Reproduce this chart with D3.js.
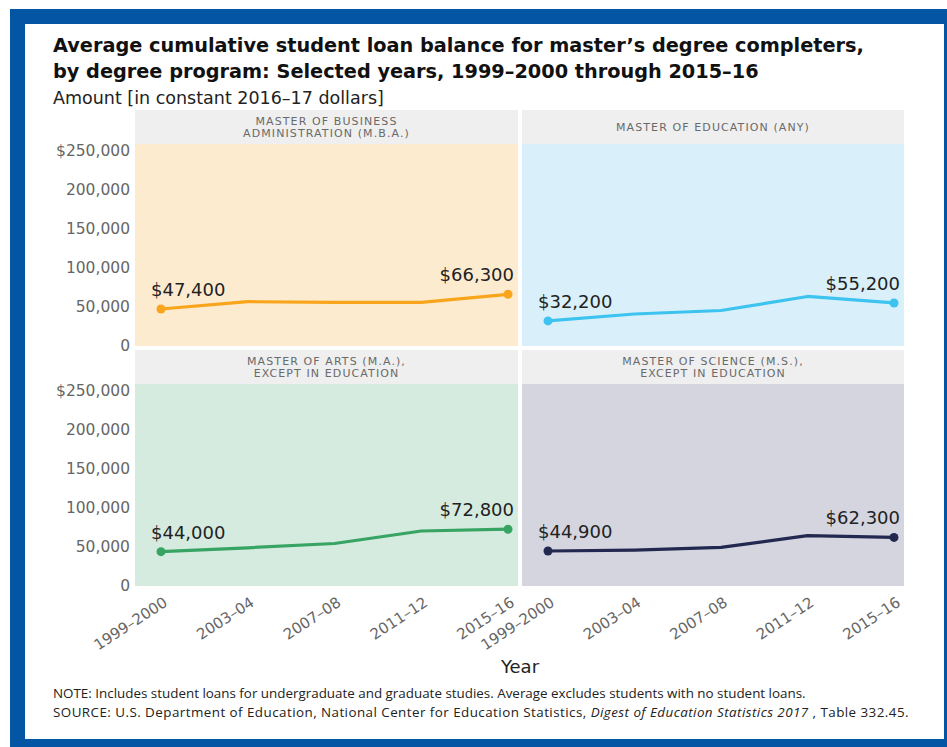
<!DOCTYPE html>
<html>
<head>
<meta charset="utf-8">
<script src="https://cdn.jsdelivr.net/npm/d3@7/dist/d3.min.js"></script>
<style>
  body { margin: 0; background: #fff; }
  svg text { font-family: "DejaVu Sans", sans-serif; }
</style>
</head>
<body>
<svg id="chart" width="947" height="747"></svg>
<script>
// data
var years = ["1999–2000", "2003–04", "2007–08", "2011–12", "2015–16"];
var mbaValues = [47400, 56800, 56000, 56000, 66300];
var eduValues = [32200, 41000, 45500, 63500, 55200];
var maValues = [44000, 49000, 54500, 70500, 72800];
var msValues = [44900, 46000, 49500, 64500, 62300];
var yTicks = [0, 50000, 100000, 150000, 200000, 250000];

var panels = [
  { title: ["MASTER OF BUSINESS", "ADMINISTRATION (M.B.A.)"], values: mbaValues, line: "#f8a51c", bg: "#fdebd0", col: 0, row: 0 },
  { title: ["MASTER OF EDUCATION (ANY)"], values: eduValues, line: "#3dc3f0", bg: "#d9f0fa", col: 1, row: 0 },
  { title: ["MASTER OF ARTS (M.A.),", "EXCEPT IN EDUCATION"], values: maValues, line: "#37a463", bg: "#d6ebdf", col: 0, row: 1 },
  { title: ["MASTER OF SCIENCE (M.S.),", "EXCEPT IN EDUCATION"], values: msValues, line: "#22284f", bg: "#d4d5df", col: 1, row: 1 }
];

var svg = d3.select("#chart");

// blue frame
svg.append("rect").attr("x", 10).attr("y", 9).attr("width", 937).attr("height", 738).attr("fill", "#0455a4");
svg.append("rect").attr("x", 25).attr("y", 24).attr("width", 919).attr("height", 715).attr("fill", "#fff");

// title
svg.append("text").attr("x", 53).attr("y", 52)
  .attr("font-size", 19.3).attr("font-weight", "bold").attr("fill", "#111")
  .text("Average cumulative student loan balance for master’s degree completers,");
svg.append("text").attr("x", 53).attr("y", 78)
  .attr("font-size", 19.3).attr("font-weight", "bold").attr("fill", "#111")
  .text("by degree program: Selected years, 1999–2000 through 2015–16");
svg.append("text").attr("x", 53).attr("y", 104)
  .attr("font-size", 17.5).attr("fill", "#222")
  .text("Amount [in constant 2016–17 dollars]");

var colX = [135, 522], colW = [383, 382];
var rowY = [110, 350];
var headH = 34, plotH = 202;

var y = d3.scaleLinear().domain([0, 250000]).range([plotH, 7]);
var fmtTick = d3.format(",");

panels.forEach(function (p) {
  var g = svg.append("g")
    .attr("transform", "translate(" + colX[p.col] + "," + rowY[p.row] + ")");
  var w = colW[p.col];

  var x = d3.scalePoint().domain(years).range([26, w - 10]);

  // header strip
  g.append("rect").attr("width", w).attr("height", headH).attr("fill", "#efefef");
  var lineH = 12.5;
  var startY = headH / 2 - (p.title.length - 1) * lineH / 2 + 4;
  p.title.forEach(function (t, i) {
    g.append("text")
      .attr("x", w / 2).attr("y", startY + i * lineH)
      .attr("text-anchor", "middle")
      .attr("font-size", 11).attr("fill", "#6a6a6a")
      .attr("letter-spacing", 1.1)
      .text(t);
  });

  var plot = g.append("g").attr("transform", "translate(0," + headH + ")");
  plot.append("rect").attr("width", w).attr("height", plotH).attr("fill", p.bg);

  // y axis on left column
  if (p.col === 0) {
    var yAxis = d3.axisLeft(y).tickValues(yTicks).tickSize(0).tickPadding(5)
      .tickFormat(function (d) { return d === 250000 ? "$" + fmtTick(d) : fmtTick(d); });
    var ya = plot.append("g").call(yAxis);
    ya.select(".domain").remove();
    ya.selectAll("text").attr("font-size", 15.5).attr("fill", "#666")
      .style("font-family", "DejaVu Sans");
  }

  // x axis on bottom row
  if (p.row === 1) {
    var xAxis = d3.axisBottom(x).tickSize(0).tickPadding(0);
    var xa = plot.append("g").attr("transform", "translate(0," + plotH + ")").call(xAxis);
    xa.select(".domain").remove();
    xa.selectAll("text")
      .attr("font-size", 15).attr("fill", "#666")
      .style("font-family", "DejaVu Sans")
      .attr("text-anchor", "end")
      .attr("dy", null)
      .attr("transform", "translate(7,19) rotate(-33)");
  }

  var line = d3.line()
    .x(function (d, i) { return x(years[i]); })
    .y(function (d) { return y(d); });

  plot.append("path").datum(p.values)
    .attr("fill", "none").attr("stroke", p.line).attr("stroke-width", 3.2)
    .attr("stroke-linejoin", "round")
    .attr("d", line);

  var ends = [0, p.values.length - 1];
  plot.selectAll("circle").data(ends).enter().append("circle")
    .attr("cx", function (i) { return x(years[i]); })
    .attr("cy", function (i) { return y(p.values[i]); })
    .attr("r", 4.5).attr("fill", p.line);

  plot.selectAll("text.val").data(ends).enter().append("text")
    .attr("class", "val")
    .attr("x", function (i) { return i === 0 ? x(years[i]) - 10 : x(years[i]) + 6; })
    .attr("y", function (i) { return y(p.values[i]) - 13; })
    .attr("text-anchor", function (i) { return i === 0 ? "start" : "end"; })
    .attr("font-size", 18).attr("fill", "#222")
    .text(function (i) { return "$" + fmtTick(p.values[i]); });
});

svg.append("text").attr("x", 520).attr("y", 673)
  .attr("text-anchor", "middle").attr("font-size", 18).attr("fill", "#222")
  .text("Year");

svg.append("text").attr("x", 53).attr("y", 698)
  .attr("font-size", 13.4).attr("fill", "#222")
  .style("font-family", "Open Sans")
  .text("NOTE: Includes student loans for undergraduate and graduate studies. Average excludes students with no student loans.");

var src = svg.append("text").attr("x", 53).attr("y", 717)
  .attr("font-size", 13.4).attr("fill", "#222")
  .attr("letter-spacing", 0.45)
  .style("font-family", "Open Sans");
src.append("tspan").text("SOURCE: U.S. Department of Education, National Center for Education Statistics,  ");
src.append("tspan").attr("font-style", "italic").text("Digest of Education Statistics 2017");
src.append("tspan").text(" , Table 332.45.");
</script>
</body>
</html>
